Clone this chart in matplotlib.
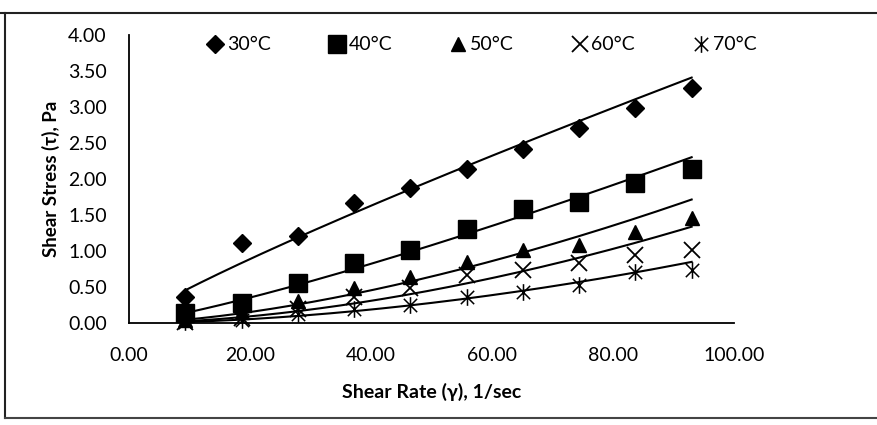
import numpy as np
import matplotlib
matplotlib.use("Agg")
import matplotlib.pyplot as plt
from matplotlib.path import Path
from matplotlib.lines import Line2D
from matplotlib.ticker import FormatStrFormatter

# shear rate (1/sec) and shear stress (Pa)
shear_rate = [9.3, 18.6, 27.9, 37.2, 46.5, 55.8, 65.1, 74.4, 83.7, 93.0]
stress_30 = [0.36, 1.11, 1.21, 1.67, 1.87, 2.14, 2.42, 2.71, 2.99, 3.26]
stress_40 = [0.14, 0.28, 0.56, 0.83, 1.01, 1.31, 1.58, 1.68, 1.94, 2.14]
stress_50 = [0.035, 0.15, 0.30, 0.49, 0.64, 0.85, 1.01, 1.08, 1.26, 1.46]
stress_60 = [0.02, 0.07, 0.20, 0.36, 0.49, 0.66, 0.74, 0.83, 0.94, 1.01]
stress_70 = [0.012, 0.045, 0.12, 0.19, 0.25, 0.36, 0.43, 0.53, 0.71, 0.74]
labels = ["30°C", "40°C", "50°C", "60°C", "70°C"]

plt.rcParams['font.family'] = ['Lato', 'DejaVu Sans']

# excel style "star" marker: an x with a vertical bar through it
star = Path([(-1, -1), (1, 1), (-1, 1), (1, -1), (0, -1.25), (0, 1.25)],
            [Path.MOVETO, Path.LINETO, Path.MOVETO, Path.LINETO, Path.MOVETO, Path.LINETO])

styles = [
    dict(marker='D', ms=9.5),
    dict(marker='s', ms=12.5),
    dict(marker='^', ms=10),
    dict(marker='x', ms=11, mew=1.3),
    dict(marker=star, ms=12, mew=1.1),
]
series = [stress_30, stress_40, stress_50, stress_60, stress_70]

fig = plt.figure(figsize=(8.78, 4.25), dpi=100)
ax = fig.add_axes([129 / 878, 1 - 323 / 425, 605 / 878, 288 / 425])

x = np.array(shear_rate)
handles = []
for y, st, lab in zip(series, styles, labels):
    y = np.array(y)
    # power trendline, fitted in log space like the spreadsheet does
    n, lnk = np.polyfit(np.log(x), np.log(y), 1)
    xs = np.linspace(x.min(), x.max(), 200)
    ax.plot(xs, np.exp(lnk) * xs ** n, color='black', lw=1.5, zorder=2)
    h, = ax.plot(x, y, ls='none', color='black', mfc='black', mec='black',
                 clip_on=False, zorder=3, label=lab, **st)
    handles.append(h)

ax.set_xlim(0, 100)
ax.set_ylim(0, 4)
ax.set_xticks(np.arange(0, 101, 20))
ax.set_yticks(np.arange(0, 4.01, 0.5))
ax.xaxis.set_major_formatter(FormatStrFormatter('%.2f'))
ax.yaxis.set_major_formatter(FormatStrFormatter('%.2f'))
ax.tick_params(length=0, labelsize=14)
ax.tick_params(axis='x', pad=17)
ax.tick_params(axis='y', pad=16)
for s in ['top', 'right']:
    ax.spines[s].set_visible(False)
for s in ['left', 'bottom']:
    ax.spines[s].set_linewidth(1.3)

ax.set_xlabel("Shear Rate (γ), 1/sec", fontsize=14, fontweight='bold', labelpad=14)
ax.set_ylabel("Shear Stress (τ), Pa", fontsize=13.5, fontweight='bold', labelpad=6)

fig.legend(handles=handles, loc='center', bbox_to_anchor=(482 / 878, 1 - 45 / 425),
           ncol=5, frameon=False, fontsize=14, handlelength=0.8,
           handletextpad=0.2, columnspacing=3.0, borderpad=0)

# outer chart frame (no right edge visible in the scan)
fig.add_artist(Line2D([0, 1], [1 - 13 / 425] * 2, color='#222222', lw=1.5))
fig.add_artist(Line2D([5 / 878] * 2, [1 - 13 / 425, 7 / 425], color='#222222', lw=1.5))
fig.add_artist(Line2D([5 / 878, 1], [7 / 425] * 2, color='#444444', lw=1.5))

fig.savefig("out.png", dpi=100, facecolor='white')
